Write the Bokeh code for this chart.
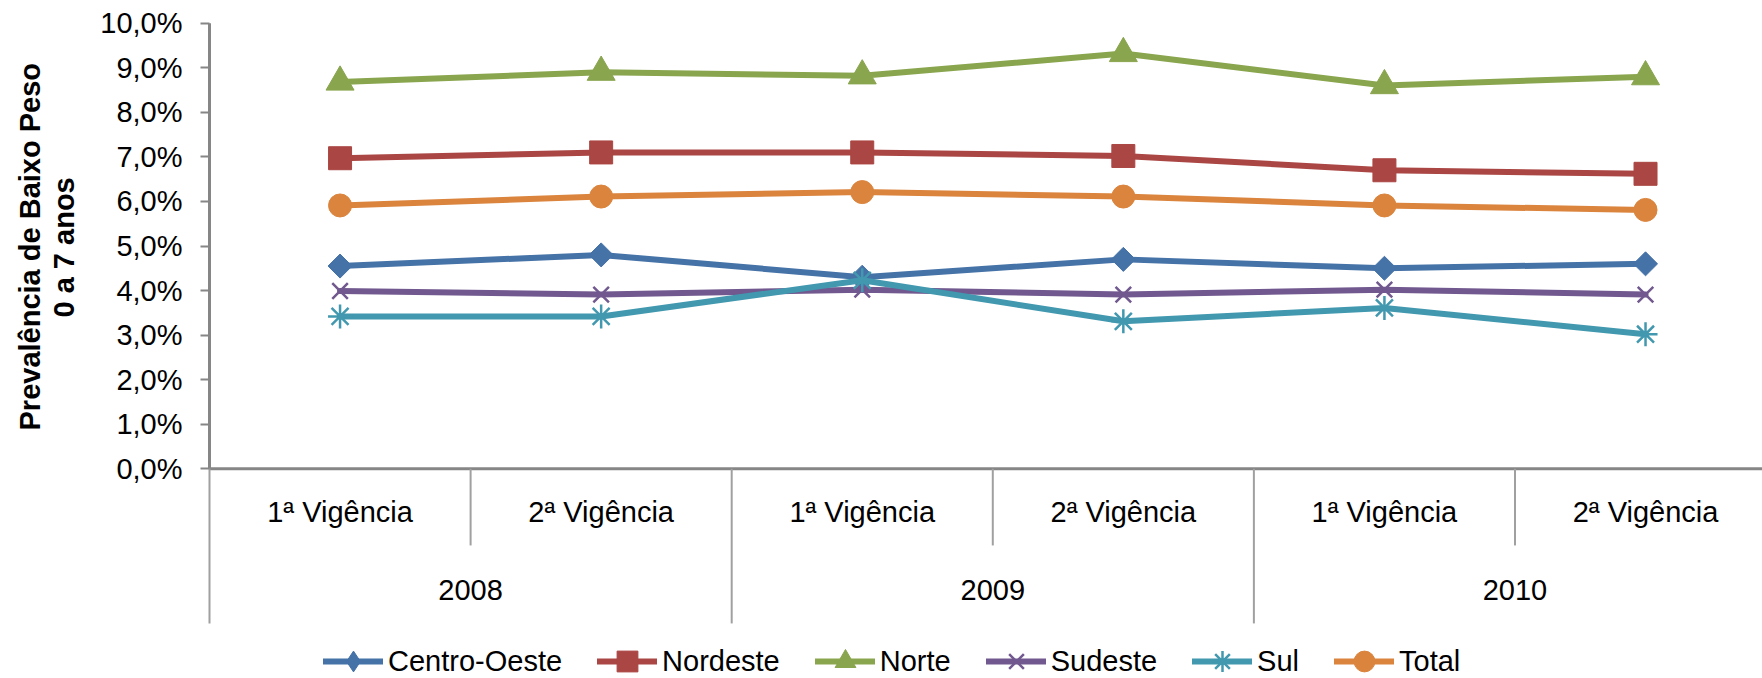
import math
from bokeh.plotting import figure
from bokeh.models import (Range1d, FixedTicker, CustomJSTickFormatter, Title,
                          Legend, LegendItem, ColumnDataSource)
from bokeh.core.properties import value
from bokeh.embed import file_html
from bokeh.resources import INLINE

# ---- data (percent) ----
vigencias = ["1ª Vigência", "2ª Vigência", "1ª Vigência", "2ª Vigência", "1ª Vigência", "2ª Vigência"]
years = ["2008", "2009", "2010"]

centro_oeste = [4.55, 4.8, 4.3, 4.7, 4.5, 4.6]
nordeste = [6.97, 7.1, 7.1, 7.02, 6.7, 6.62]
norte = [8.68, 8.9, 8.82, 9.32, 8.6, 8.8]
sudeste = [3.99, 3.91, 4.02, 3.91, 4.02, 3.91]
sul = [3.42, 3.42, 4.23, 3.31, 3.61, 3.02]
total = [5.91, 6.11, 6.21, 6.11, 5.91, 5.81]

series_names = ["Centro-Oeste", "Nordeste", "Norte", "Sudeste", "Sul", "Total"]
series_values = [centro_oeste, nordeste, norte, sudeste, sul, total]
colors = ["#4572A7", "#AA4643", "#89A54E", "#71588F", "#4198AF", "#DB843D"]
markers = ["square", "square", "triangle", "x", "asterisk", "circle"]
legend_markers = ["diamond", "square", "triangle", "x", "asterisk", "circle"]
marker_sizes = [17, 23, 28, 22, 24, 23]
marker_angles = [math.pi / 4, 0, 0, 0, 0, 0]

FONT = "Liberation Sans"
AXIS_GRAY = "#868686"
SEP_GRAY = "#A0A0A0"

n = len(vigencias)
x_end = 5.948
y_start, y_end = -4.706, 10.016

p = figure(width=1762, height=678, output_backend="svg", toolbar_location=None,
           x_range=Range1d(-0.0115, x_end), y_range=Range1d(y_start, y_end),
           x_axis_location=None, y_axis_location="left")
p.min_border_left = 206
p.min_border_right = 0
p.min_border_top = 22
p.min_border_bottom = 0
p.outline_line_color = None
p.xgrid.visible = False
p.ygrid.visible = False
p.background_fill_color = "white"
p.border_fill_color = "white"

ax = p.yaxis[0]
ax.ticker = FixedTicker(ticks=list(range(0, 11)))
ax.formatter = CustomJSTickFormatter(code="return tick.toFixed(1).replace('.', ',') + '%';")
ax.axis_line_color = None
ax.major_tick_line_color = AXIS_GRAY
ax.major_tick_line_width = 2
ax.major_tick_out = 6
ax.major_tick_in = 3
ax.minor_tick_line_color = None
ax.major_label_standoff = 18
ax.major_label_text_font = FONT
ax.major_label_text_font_size = "29px"
ax.major_label_text_color = "black"

# axis lines
p.segment(x0=[0], y0=[0], x1=[0], y1=[10], line_color=AXIS_GRAY, line_width=3)
p.segment(x0=[0], y0=[0], x1=[x_end], y1=[0], line_color=AXIS_GRAY, line_width=3)

# category separators
sep_bottom = -3.47
inner_x = [i for i in range(1, n, 2)]
outer_x = [i for i in range(0, n + 1, 2)]
p.segment(x0=inner_x, y0=[0] * len(inner_x), x1=inner_x, y1=[-1.72] * len(inner_x),
          line_color=SEP_GRAY, line_width=2)
p.segment(x0=outer_x, y0=[0] * len(outer_x), x1=outer_x, y1=[sep_bottom] * len(outer_x),
          line_color=SEP_GRAY, line_width=2)

# category labels
xs = [i + 0.5 for i in range(n)]
p.text(x=xs, y=[-0.97] * n, text=vigencias, text_align="center", text_baseline="middle",
       text_font=value(FONT), text_font_size="29px", text_color="black")
p.text(x=[2 * j + 1 for j in range(len(years))], y=[-2.73] * len(years), text=years,
       text_align="center", text_baseline="middle",
       text_font=value(FONT), text_font_size="29px", text_color="black")

# series
items = []
for name, vals, c, m, lm, s, a in zip(series_names, series_values, colors, markers,
                                       legend_markers, marker_sizes, marker_angles):
    src = ColumnDataSource(data=dict(x=xs, y=vals))
    lr = p.line("x", "y", source=src, line_color=c, line_width=6,
                line_join="round", line_cap="round")
    legend_r = None
    if lm != m:
        # narrow diamond, fully covered by the rotated square drawn on top;
        # it provides the legend swatch shape
        legend_r = p.scatter("x", "y", source=src, marker=lm, size=18, fill_color=c,
                             line_color=c, line_width=1)
    if m in ("x", "asterisk"):
        sr = p.scatter("x", "y", source=src, marker=m, size=s, line_color=c,
                       line_width=2.5, fill_color=c)
    else:
        sr = p.scatter("x", "y", source=src, marker=m, size=s, angle=a, fill_color=c,
                       line_color=c, line_width=1)
    items.append(LegendItem(label=name, renderers=[lr, legend_r if legend_r is not None else sr]))

legend = Legend(items=items, orientation="horizontal", location=(117, -9),
                glyph_width=60, glyph_height=52, label_height=52, label_standoff=5,
                spacing=35, padding=0, margin=0, border_line_color=None,
                background_fill_alpha=0, label_text_font=FONT,
                label_text_font_size="29px", label_text_color="black")
p.add_layout(legend, "center")

# y axis title (two lines), placed in the left panel
spacer = Title(text=" ", standoff=0, text_font=FONT, text_font_size="13px")
t2 = Title(text="0 a 7 anos", align="left", offset=361, vertical_align="middle",
           standoff=0, text_font=FONT, text_font_size="29px", text_font_style="bold",
           text_color="black")
t1 = Title(text="Prevalência de Baixo Peso", align="left", offset=248, vertical_align="middle",
           standoff=0, text_font=FONT, text_font_size="29px", text_font_style="bold",
           text_color="black")
p.add_layout(spacer, "left")
p.add_layout(t2, "left")
p.add_layout(t1, "left")

open("out.html", "w").write(file_html(p, INLINE))
